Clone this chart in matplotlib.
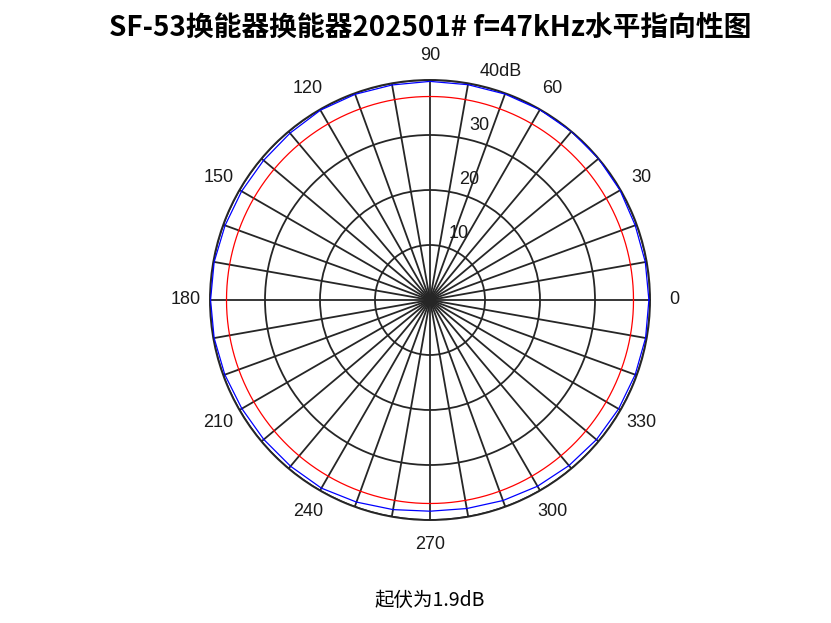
import numpy as np
import matplotlib
matplotlib.use("Agg")
import matplotlib.pyplot as plt
from matplotlib.transforms import offset_copy

# ---- data ----
angles_deg = [0, 10, 20, 30, 40, 50, 60, 70, 80, 90, 100, 110, 120, 130, 140, 150, 160, 170,
              180, 190, 200, 210, 220, 230, 240, 250, 260, 270, 280, 290, 300, 310, 320, 330, 340, 350]
level_db = [39.8, 39.75, 39.7, 39.9, 40.0, 40.0, 39.95, 39.85, 39.75, 39.75, 39.7, 39.8, 39.85, 39.6,
            39.5, 39.55, 39.65, 39.85, 39.9, 39.85, 39.7, 39.5, 39.45, 39.45, 39.5, 39.1, 38.7, 38.4,
            38.5, 38.8, 39.1, 39.3, 39.5, 39.6, 39.7, 39.8]
ref_level_db = 37.0          # -3 dB reference circle
r_ticks = [10, 20, 30, 40]
r_tick_labels = ["10", "20", "30", "40dB"]
theta_grid_deg = list(range(0, 360, 10))
theta_label_deg = list(range(0, 360, 30))
title = "SF-53换能器换能器202501# f=47kHz水平指向性图"
footer = "起伏为1.9dB"

W, H = 831, 623
fig = plt.figure(figsize=(W / 100, H / 100), dpi=100)
fig.patch.set_facecolor("white")

cx, cy, R = 430, 300, 220
ax = fig.add_axes([(cx - R) / W, (H - cy - R) / H, 2 * R / W, 2 * R / H], projection="polar")
ax.set_facecolor("white")

grid_color = "#262626"
ax.set_ylim(0, 40)
ax.set_rticks(r_ticks)
ax.set_yticklabels([])
labels = [str(a) if a in theta_label_deg else "" for a in theta_grid_deg]
ax.set_thetagrids(theta_grid_deg, labels, fontsize=13, family="Liberation Sans", color="#1a1a1a")
ax.tick_params(axis="x", pad=7)
ax.grid(True, color=grid_color, linewidth=1.3, linestyle="-")
ax.spines["polar"].set_color(grid_color)
ax.spines["polar"].set_linewidth(1.4)

# reference circle
th_ref = np.deg2rad(np.linspace(0, 360, 721))
ax.plot(th_ref, np.full_like(th_ref, ref_level_db), color="red", linewidth=0.9, zorder=3)

# measured curve
th = np.deg2rad(np.array(angles_deg + [angles_deg[0] + 360]))
rv = np.array(level_db + [level_db[0]])
ax.plot(th, rv, color="blue", linewidth=0.9, zorder=4)

# radial labels
trans = offset_copy(ax.transData, fig=fig, x=8, y=8, units="dots")
for rt, lab in zip(r_ticks, r_tick_labels):
    ax.text(np.deg2rad(79), rt, lab, transform=trans, ha="left", va="baseline",
            fontsize=13, family="Liberation Sans", color="#1a1a1a", zorder=5)

fig.text(cx / W, 1 - 28 / H, title, ha="center", va="center", fontsize=20, fontweight="bold",
         family=["Noto Sans CJK SC", "DejaVu Sans"])
fig.text(cx / W, 1 - 601 / H, footer, ha="center", va="center", fontsize=14,
         family=["Noto Sans CJK SC", "DejaVu Sans"])

fig.savefig("out.png", dpi=100, facecolor="white")
